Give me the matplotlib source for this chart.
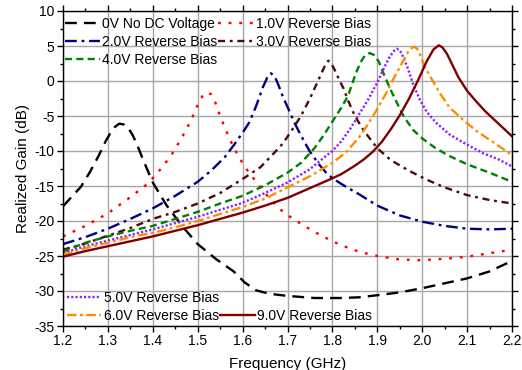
import matplotlib
matplotlib.use('Agg')
import matplotlib.pyplot as plt
from matplotlib.lines import Line2D
from matplotlib.ticker import MultipleLocator

# frequency (GHz) / realized gain (dB), one pair per bias
freq_0v = [1.2, 1.22, 1.24, 1.26, 1.28, 1.295, 1.305, 1.315, 1.325, 1.335, 1.345, 1.355, 1.365, 1.38,
           1.4, 1.43, 1.465, 1.5, 1.54, 1.58, 1.605, 1.63, 1.66, 1.7, 1.76, 1.82, 1.86, 1.9, 1.95,
           2.0, 2.05, 2.1, 2.15, 2.2]
gain_0v = [-17.9, -16.5, -15.1, -13.0, -10.6, -8.6, -7.5, -6.6, -6.1, -6.2, -6.7, -7.7, -9.1, -11.5,
           -14.5, -17.7, -20.7, -23.3, -25.4, -27.2, -28.8, -29.9, -30.4, -30.7, -31.0, -31.0, -30.9, -30.6, -30.2,
           -29.6, -28.9, -28.2, -27.2, -25.7]

freq_1v = [1.2, 1.25, 1.3, 1.35, 1.39, 1.42, 1.44, 1.46, 1.475, 1.49, 1.5, 1.51, 1.52, 1.53, 1.54,
           1.55, 1.56, 1.57, 1.58, 1.595, 1.61, 1.635, 1.66, 1.685, 1.71, 1.74, 1.77, 1.8, 1.83, 1.86,
           1.9, 1.95, 2.0, 2.05, 2.1, 2.15, 2.2]
gain_1v = [-22.2, -20.7, -18.9, -16.6, -14.6, -12.4, -10.7, -8.6, -6.9, -4.9, -3.4, -2.2, -1.6, -1.9, -3.2,
           -5.0, -6.6, -8.1, -9.5, -11.2, -12.7, -14.8, -16.8, -18.4, -19.6, -20.8, -21.9, -22.9, -23.7, -24.4,
           -25.0, -25.5, -25.6, -25.4, -25.1, -24.6, -24.1]

freq_2v = [1.2, 1.25, 1.3, 1.35, 1.4, 1.45, 1.5, 1.53, 1.56, 1.58, 1.6, 1.615, 1.63, 1.645, 1.655,
           1.663, 1.672, 1.68, 1.69, 1.7, 1.715, 1.73, 1.75, 1.77, 1.79, 1.81, 1.83, 1.86, 1.9, 1.95,
           2.0, 2.05, 2.1, 2.15, 2.2]
gain_2v = [-23.3, -22.3, -21.1, -19.7, -18.2, -16.4, -14.4, -12.8, -10.9, -9.2, -7.4, -5.9, -3.6, -0.9, 0.5,
           1.1, 0.6, -0.6, -2.3, -3.7, -5.9, -7.8, -10.1, -11.9, -13.4, -14.3, -15.1, -16.2, -17.8, -19.2,
           -20.1, -20.7, -21.1, -21.2, -21.1]

freq_3v = [1.2, 1.25, 1.3, 1.35, 1.4, 1.45, 1.5, 1.55, 1.6, 1.64, 1.67, 1.69, 1.71, 1.73, 1.75,
           1.765, 1.777, 1.785, 1.791, 1.797, 1.805, 1.815, 1.825, 1.835, 1.85, 1.87, 1.9, 1.93, 1.97, 2.01,
           2.05, 2.1, 2.15, 2.2]
gain_3v = [-24.1, -23.2, -22.1, -21.0, -19.7, -18.7, -17.5, -16.0, -14.0, -12.3, -10.3, -8.9, -7.0, -5.0, -2.5,
           -0.4, 1.3, 2.4, 2.9, 2.6, 1.6, 0.2, -1.1, -2.8, -5.0, -7.1, -9.6, -11.3, -12.8, -14.1,
           -15.2, -16.3, -17.0, -17.5]

freq_4v = [1.2, 1.25, 1.3, 1.35, 1.4, 1.45, 1.5, 1.55, 1.6, 1.65, 1.7, 1.73, 1.76, 1.78, 1.8,
           1.82, 1.835, 1.85, 1.862, 1.872, 1.883, 1.893, 1.903, 1.915, 1.93, 1.945, 1.96, 1.98, 2.0, 2.03,
           2.06, 2.1, 2.15, 2.2]
gain_4v = [-24.4, -23.1, -22.2, -21.4, -20.7, -19.7, -18.7, -17.5, -16.4, -14.9, -13.1, -11.7, -9.6, -7.8, -5.8,
           -3.8, -2.1, 0.7, 2.6, 3.6, 4.0, 3.7, 2.8, 0.9, -1.3, -3.3, -5.2, -7.0, -8.2, -9.6,
           -10.7, -11.9, -13.1, -14.4]

freq_5v = [1.2, 1.25, 1.3, 1.35, 1.4, 1.45, 1.5, 1.55, 1.6, 1.65, 1.7, 1.75, 1.78, 1.8, 1.82,
           1.84, 1.86, 1.88, 1.9, 1.915, 1.928, 1.937, 1.944, 1.951, 1.958, 1.968, 1.98, 1.995, 2.01, 2.03,
           2.06, 2.1, 2.135, 2.17, 2.2]
gain_5v = [-24.6, -23.6, -22.8, -22.0, -21.2, -20.3, -19.4, -18.4, -17.4, -16.0, -14.5, -12.6, -11.0, -10.0, -8.6,
           -6.8, -4.7, -2.6, -0.2, 1.9, 3.5, 4.3, 4.6, 4.3, 3.4, 1.8, -0.5, -2.7, -4.4, -5.9,
           -7.6, -9.1, -10.3, -11.2, -12.2]

freq_6v = [1.2, 1.25, 1.3, 1.35, 1.4, 1.45, 1.5, 1.55, 1.6, 1.65, 1.7, 1.75, 1.8, 1.83, 1.86,
           1.88, 1.9, 1.92, 1.94, 1.957, 1.968, 1.976, 1.983, 1.99, 1.997, 2.005, 2.02, 2.04, 2.06, 2.09,
           2.12, 2.15, 2.18, 2.2]
gain_6v = [-24.8, -23.9, -23.1, -22.3, -21.7, -20.9, -20.0, -19.0, -18.0, -16.8, -15.2, -13.6, -11.7, -10.2, -8.0,
           -6.1, -4.0, -1.7, 0.8, 2.8, 4.1, 4.7, 4.9, 4.5, 3.5, 2.1, 0.4, -1.8, -3.7, -5.5,
           -7.1, -8.4, -9.7, -10.6]

freq_9v = [1.2, 1.25, 1.3, 1.35, 1.4, 1.45, 1.5, 1.55, 1.6, 1.65, 1.7, 1.75, 1.8, 1.82, 1.85,
           1.87, 1.89, 1.91, 1.93, 1.95, 1.97, 1.99, 2.01, 2.025, 2.037, 2.045, 2.055, 2.065, 2.08, 2.1,
           2.12, 2.14, 2.16, 2.18, 2.2]
gain_9v = [-25.1, -24.3, -23.6, -22.9, -22.2, -21.4, -20.6, -19.7, -18.8, -17.8, -16.7, -15.3, -13.9, -13.3, -12.1,
           -11.2, -10.1, -8.7, -6.9, -4.9, -2.6, 0.0, 2.8, 4.5, 5.1, 4.8, 3.9, 2.6, 0.6, -1.4,
           -2.9, -4.3, -5.5, -6.7, -7.9]

labels = ['0V No DC Voltage', '1.0V Reverse Bias', '2.0V Reverse Bias', '3.0V Reverse Bias',
          '4.0V Reverse Bias', '5.0V Reverse Bias', '6.0V Reverse Bias', '9.0V Reverse Bias']

x_ticks = [1.2, 1.3, 1.4, 1.5, 1.6, 1.7, 1.8, 1.9, 2.0, 2.1, 2.2]
y_ticks = [10, 5, 0, -5, -10, -15, -20, -25, -30, -35]


def draw_curve(ax, x, y, label, color, dashes=None):
    """Draws one gain curve, solid when no dash pattern is given."""
    line, = ax.plot(x, y, color=color, lw=1.7, label=label)
    if dashes is not None:
        line.set_dashes(dashes)
    return line


plt.rcParams['font.family'] = ['Liberation Sans', 'DejaVu Sans']
fig = plt.figure(figsize=(5.22, 3.70), dpi=100)
ax = fig.add_axes([63 / 522, 44 / 370, 449 / 522, 315 / 370])

h0 = draw_curve(ax, freq_0v, gain_0v, labels[0], 'black', (5, 3))
h1 = draw_curve(ax, freq_1v, gain_1v, labels[1], '#ff0000', (1.2, 3.3))
h2 = draw_curve(ax, freq_2v, gain_2v, labels[2], '#000080', (5, 2, 1.2, 2))
h3 = draw_curve(ax, freq_3v, gain_3v, labels[3], '#4b0b0b', (3, 2, 1.2, 2))
h4 = draw_curve(ax, freq_4v, gain_4v, labels[4], '#008000', (3, 1.8))
h5 = draw_curve(ax, freq_5v, gain_5v, labels[5], '#8a1cff', (0.9, 0.9))
h6 = draw_curve(ax, freq_6v, gain_6v, labels[6], '#ff8c00', (4, 1.5, 1.2, 1.5))
h9 = draw_curve(ax, freq_9v, gain_9v, labels[7], '#800000')

ax.set_xlim(1.2, 2.2)
ax.set_ylim(-35, 10)
ax.set_xticks(x_ticks)
ax.set_yticks(y_ticks)
ax.set_xticklabels(['%.1f' % t for t in x_ticks])
ax.set_yticklabels(['%d' % t for t in y_ticks])
ax.xaxis.set_minor_locator(MultipleLocator(0.05))
ax.yaxis.set_minor_locator(MultipleLocator(2.5))
ax.tick_params(which='both', direction='out', labelsize=10, width=1, pad=2)
ax.tick_params(which='major', length=4)
ax.tick_params(which='minor', length=2.5)
ax.tick_params(which='both', right=True, top=True)
ax.grid(True, which='major', color='#a8a8a8', lw=1)
ax.set_axisbelow(True)
for s in ax.spines.values():
    s.set_linewidth(1)

ax.set_xlabel('Frequency (GHz)', fontsize=11, labelpad=6)
ax.set_ylabel('Realized Gain (dB)', fontsize=11, labelpad=3)

leg_kw = dict(frameon=False, fontsize=10, handlelength=2.5, handletextpad=0.2,
              columnspacing=0.05, labelspacing=0.28, borderaxespad=0, borderpad=0.1)
top_leg = ax.legend([h0, h2, h4, h1, h3], [labels[0], labels[2], labels[4], labels[1], labels[3]],
                    loc='upper left', bbox_to_anchor=(0.001, 0.985), ncol=2, **leg_kw)
ax.add_artist(top_leg)

blank = Line2D([], [], linestyle='none')
ax.legend([h5, h6, blank, h9], [labels[5], labels[6], '', labels[7]],
          loc='lower left', bbox_to_anchor=(0.005, 0.006), ncol=2, **leg_kw)

fig.savefig('out.png', dpi=100)
